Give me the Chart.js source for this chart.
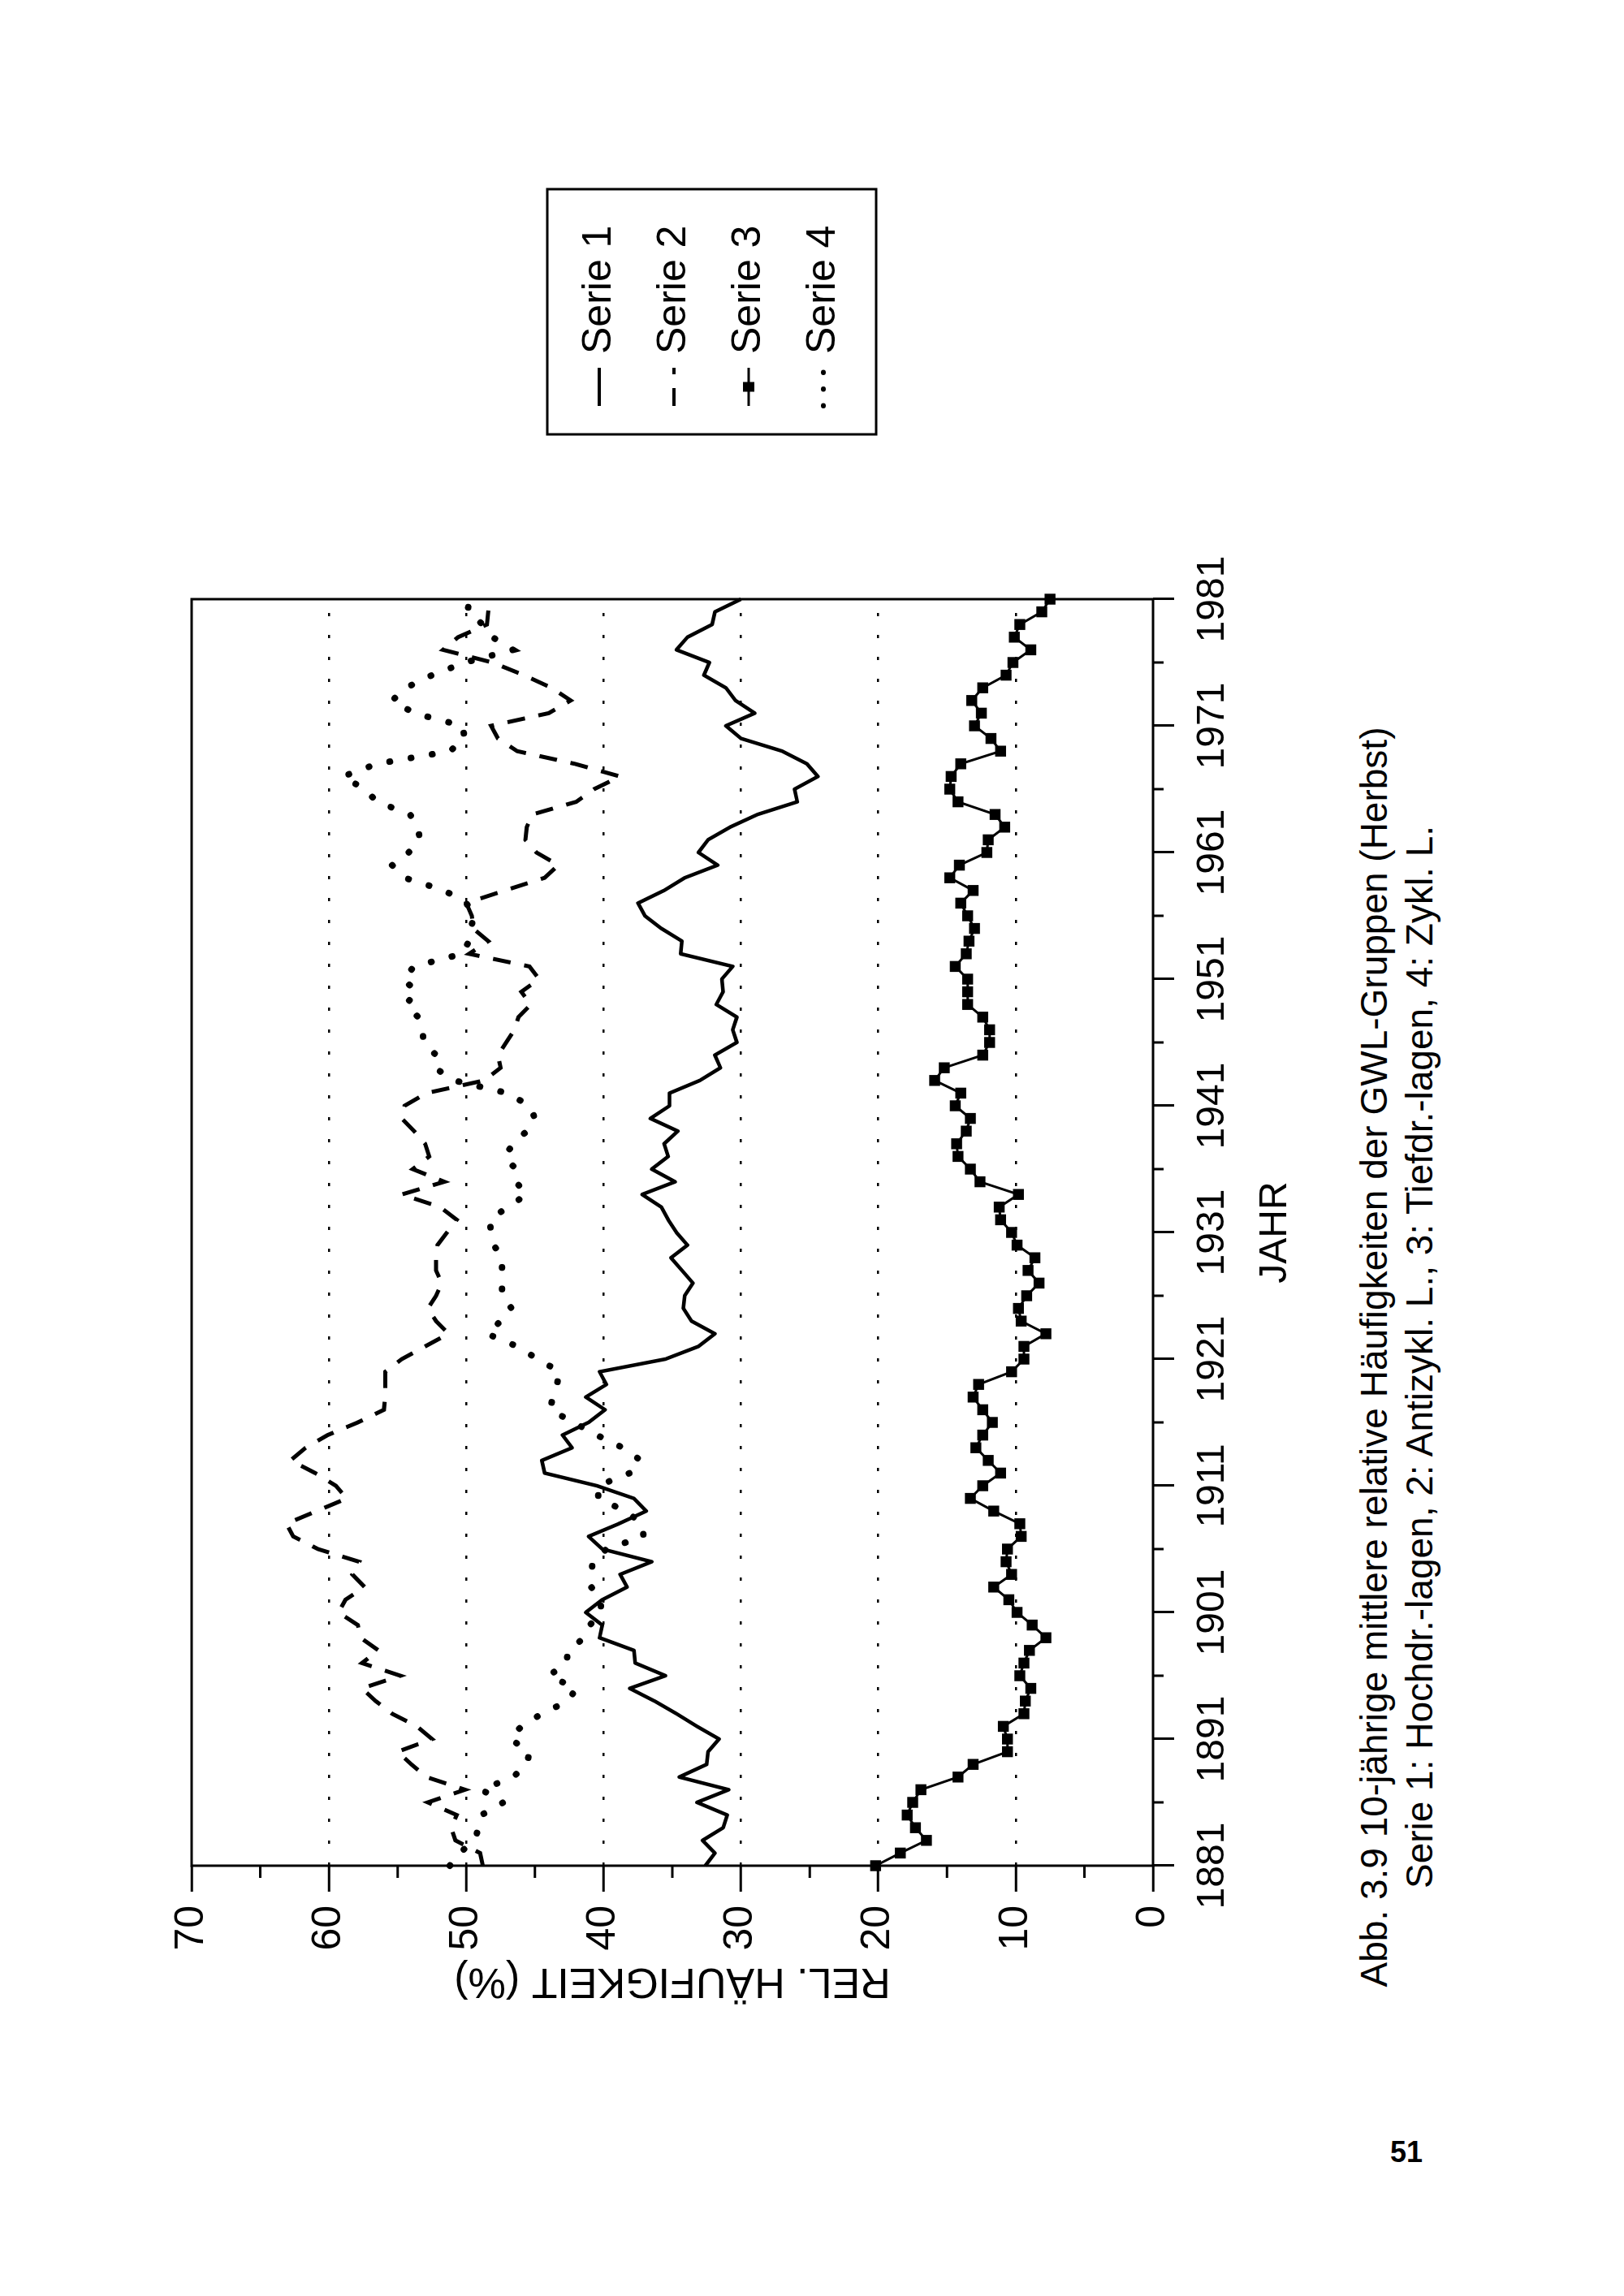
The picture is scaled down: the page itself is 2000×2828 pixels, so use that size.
<!DOCTYPE html>
<html>
<head>
<meta charset="utf-8">
<script src="https://cdn.jsdelivr.net/npm/chart.js@4.4.1/dist/chart.umd.min.js"></script>
<style>
html, body { margin: 0; padding: 0; background: #fff; width: 2000px; height: 2828px; overflow: hidden; }
#sheet {
  position: absolute; left: 0; top: 2828px; width: 2828px; height: 2000px;
  transform-origin: 0 0; transform: rotate(-90deg);
}
#chart { position: absolute; left: 300px; top: 150px; width: 2400px; height: 1500px; }
#caption {
  position: absolute; left: 368px; top: 1664px; width: 1577px;
  text-align: center; white-space: nowrap; color: #000;
  font: 46px/56px 'Liberation Sans', Arial, sans-serif;
}
#pageno {
  position: absolute; left: 1712px; top: 2630px; color: #000;
  font: bold 36px 'Liberation Sans Narrow', 'Liberation Sans', Arial, sans-serif;
}
</style>
</head>
<body>
<div id="sheet">
  <canvas id="chart" width="2400" height="1500"></canvas>
  <div id="caption">
    <div>Abb. 3.9 10-jährige mittlere relative Häufigkeiten der GWL-Gruppen (Herbst)</div>
    <div>Serie 1: Hochdr.-lagen, 2: Antizykl. L., 3: Tiefdr.-lagen, 4: Zykl. L.</div>
  </div>
</div>
<div id="pageno">51</div>

<script>
// DATEN (1881 - 1981)

const years = [
  1881, 1882, 1883, 1884, 1885, 1886, 1887, 1888, 1889, 1890,
  1891, 1892, 1893, 1894, 1895, 1896, 1897, 1898, 1899, 1900,
  1901, 1902, 1903, 1904, 1905, 1906, 1907, 1908, 1909, 1910,
  1911, 1912, 1913, 1914, 1915, 1916, 1917, 1918, 1919, 1920,
  1921, 1922, 1923, 1924, 1925, 1926, 1927, 1928, 1929, 1930,
  1931, 1932, 1933, 1934, 1935, 1936, 1937, 1938, 1939, 1940,
  1941, 1942, 1943, 1944, 1945, 1946, 1947, 1948, 1949, 1950,
  1951, 1952, 1953, 1954, 1955, 1956, 1957, 1958, 1959, 1960,
  1961, 1962, 1963, 1964, 1965, 1966, 1967, 1968, 1969, 1970,
  1971, 1972, 1973, 1974, 1975, 1976, 1977, 1978, 1979, 1980,
  1981
];

// Serie 1: Hochdr.-lagen
const serie1 = [
  32.6, 31.9, 32.8, 31.3, 31.0, 33.2, 30.9, 34.5, 32.5, 32.4,
  31.6, 33.2, 34.7, 36.3, 38.1, 35.5, 37.7, 37.8, 40.3, 40.1,
  41.3, 40.1, 38.3, 38.8, 36.5, 40.1, 41.1, 38.9, 36.9, 37.8,
  40.5, 44.3, 44.5, 42.3, 43.0, 41.1, 39.9, 41.3, 39.8, 40.3,
  35.5, 33.1, 31.9, 33.6, 34.2, 34.1, 33.5, 34.3, 35.1, 33.9,
  34.7, 35.3, 35.8, 37.2, 34.8, 36.5, 35.3, 35.6, 34.6, 36.6,
  35.2, 35.2, 33.0, 31.5, 31.9, 30.3, 30.6, 30.3, 31.8, 31.3,
  31.4, 30.6, 34.4, 34.3, 35.8, 37.0, 37.5, 35.6, 34.1, 31.7,
  33.1, 32.4, 30.8, 28.8, 25.9, 26.1, 24.4, 25.2, 27.0, 30.0,
  31.1, 29.0, 30.4, 31.1, 32.7, 32.3, 34.7, 33.9, 32.1, 31.9,
  30.0
];

// Serie 2: Antizykl. L.
const serie2 = [
  48.8, 49.0, 50.8, 51.1, 50.7, 52.8, 50.1, 52.9, 54.0, 55.0,
  52.5, 53.6, 55.4, 56.6, 57.6, 54.8, 57.6, 56.4, 57.7, 57.9,
  59.3, 58.8, 57.4, 58.3, 57.8, 60.8, 62.6, 63.1, 60.9, 58.7,
  59.5, 61.0, 62.8, 61.7, 60.1, 57.9, 56.0, 55.9, 55.9, 55.9,
  54.7, 53.0, 51.3, 52.2, 52.8, 52.2, 51.8, 52.2, 52.2, 52.1,
  51.4, 50.7, 51.9, 54.7, 51.6, 53.9, 52.7, 53.0, 53.8, 54.7,
  54.5, 52.9, 48.7, 47.5, 47.7, 47.1, 46.5, 46.2, 45.3, 46.0,
  44.7, 45.4, 49.8, 48.4, 49.5, 49.6, 50.0, 47.2, 44.3, 43.3,
  44.9, 45.7, 45.6, 45.2, 42.0, 40.7, 38.8, 42.1, 46.3, 47.7,
  48.2, 44.0, 42.4, 43.8, 45.8, 48.1, 51.7, 50.6, 48.5, 48.4,
  48.3
];

// Serie 3: Tiefdr.-lagen
const serie3 = [
  20.2, 18.4, 16.5, 17.3, 17.9, 17.5, 16.9, 14.2, 13.1, 10.6,
  10.6, 10.9, 9.4, 9.3, 8.9, 9.7, 9.4, 9.0, 7.8, 8.8,
  9.9, 10.5, 11.6, 10.3, 10.7, 10.6, 9.6, 9.7, 11.6, 13.3,
  12.4, 11.1, 12.0, 12.9, 12.4, 11.7, 12.4, 13.1, 12.7, 10.3,
  9.4, 9.4, 7.8, 9.6, 9.8, 9.2, 8.3, 9.1, 8.6, 9.9,
  10.3, 11.1, 11.2, 9.8, 12.6, 13.3, 14.2, 14.3, 13.6, 13.3,
  14.4, 14.0, 15.9, 15.2, 12.4, 11.9, 11.9, 12.4, 13.5, 13.5,
  13.5, 14.4, 13.6, 13.4, 13.0, 13.5, 14.0, 13.1, 14.8, 14.1,
  12.1, 12.0, 10.8, 11.5, 14.2, 14.8, 14.7, 14.0, 11.1, 11.8,
  13.0, 12.5, 13.2, 12.4, 10.7, 10.2, 8.9, 10.1, 9.7, 8.1,
  7.5
];

// Serie 4: Zykl. L.
const serie4 = [
  51.2, 50.5, 49.4, 49.1, 48.9, 47.3, 48.9, 46.6, 45.6, 45.4,
  46.8, 46.0, 44.5, 42.6, 42.0, 44.0, 42.7, 42.6, 41.4, 41.0,
  40.2, 40.2, 40.9, 40.9, 40.8, 39.8, 37.1, 37.2, 38.4, 40.4,
  40.4, 38.1, 37.3, 38.6, 40.5, 42.2, 43.9, 43.7, 43.4, 43.2,
  44.8, 46.3, 48.5, 47.5, 46.7, 47.4, 47.4, 47.4, 47.4, 48.0,
  48.2, 48.3, 47.0, 45.6, 46.4, 46.4, 47.2, 46.6, 45.6, 45.0,
  45.4, 47.0, 50.9, 52.3, 52.2, 53.1, 53.2, 53.5, 54.4, 53.6,
  54.6, 53.8, 50.3, 49.8, 49.7, 49.4, 50.0, 51.6, 54.5, 55.4,
  54.2, 53.4, 53.5, 54.1, 56.5, 57.4, 59.0, 56.5, 51.2, 50.1,
  50.3, 53.8, 55.4, 54.4, 52.5, 50.1, 46.6, 48.1, 48.8, 49.9,
  49.8
];

const yearTicks = [1881, 1891, 1901, 1911, 1921, 1931, 1941, 1951, 1961, 1971, 1981];
const yearMinorTicks = [1886, 1896, 1906, 1916, 1926, 1936, 1946, 1956, 1966, 1976];
const valueTicks = [0, 10, 20, 30, 40, 50, 60, 70];
const valueMinorTicks = [5, 15, 25, 35, 45, 55, 65];
const seriesNames = ['Serie 1', 'Serie 2', 'Serie 3', 'Serie 4'];


// RAHMEN UND KLEINE STRICHE

const rahmen = {
  id: 'rahmen',
  afterDraw(chart) {
    const { ctx, chartArea: a, scales } = chart;
    ctx.save();
    ctx.setLineDash([]);
    ctx.strokeStyle = '#000';
    ctx.lineWidth = 3;
    ctx.strokeRect(a.left, a.top, a.right - a.left, a.bottom - a.top);
    ctx.beginPath();
    valueMinorTicks.forEach(v => {
      const y = scales.y.getPixelForValue(v);
      ctx.moveTo(a.left - 15, y);
      ctx.lineTo(a.left, y);
    });
    yearMinorTicks.forEach(t => {
      const x = scales.x.getPixelForValue(t);
      ctx.moveTo(x, a.bottom);
      ctx.lineTo(x, a.bottom + 13);
    });
    ctx.stroke();
    ctx.restore();
  }
};


// LEGENDE MIT KASTEN

const legende = {
  id: 'legende',
  afterDraw(chart) {
    const { ctx, chartArea: a } = chart;
    const left = a.right + 203, top = 524, w = 302, h = 405;
    ctx.save();
    ctx.strokeStyle = '#000';
    ctx.fillStyle = '#000';
    ctx.lineWidth = 3;
    ctx.setLineDash([]);
    ctx.strokeRect(left, top, w, h);
    chart.data.datasets.forEach((ds, i) => {
      const y = top + 64 + i * 92;
      const x1 = left + 35, x2 = left + 82;
      const punktiert = ds.borderCapStyle === 'round';
      ctx.save();
      ctx.lineWidth = punktiert ? 6 : Math.min(ds.borderWidth, 4);
      ctx.lineCap = punktiert ? 'round' : 'butt';
      ctx.setLineDash(punktiert ? [0.5, 20] : (ds.borderDash || []));
      ctx.beginPath();
      ctx.moveTo(x1, y);
      ctx.lineTo(x2, y);
      ctx.stroke();
      ctx.restore();
      if (ds.pointRadius > 0) {
        ctx.fillRect((x1 + x2) / 2 - 6, y - 7, 12, 14);
      }
      ctx.font = "50px 'Liberation Sans', Arial, sans-serif";
      ctx.textBaseline = 'middle';
      ctx.fillText(ds.label, left + 99, y);
    });
    ctx.restore();
  }
};


// GRAFIK

Chart.defaults.font.family = "'Liberation Sans', Arial, sans-serif";
Chart.defaults.color = '#000';

const punkte = werte => years.map((j, i) => ({ x: j, y: werte[i] }));

new Chart(document.getElementById('chart'), {
  type: 'line',
  data: {
    datasets: [
      {
        label: seriesNames[0], data: punkte(serie1),
        borderColor: '#000', borderWidth: 4.5, borderJoinStyle: 'round',
        pointRadius: 0, tension: 0, clip: 10
      },
      {
        label: seriesNames[1], data: punkte(serie2),
        borderColor: '#000', borderWidth: 5, borderDash: [22, 17], pointRadius: 0, tension: 0, clip: 10
      },
      {
        label: seriesNames[2], data: punkte(serie3),
        borderColor: '#000', borderWidth: 3, tension: 0, clip: false,
        pointStyle: 'rect', pointRadius: 9.5, pointBackgroundColor: '#000', pointBorderWidth: 0
      },
      {
        label: seriesNames[3], data: punkte(serie4),
        borderColor: '#000', borderWidth: 8, borderDash: [0.5, 26], borderCapStyle: 'round',
        pointRadius: 0, tension: 0, clip: 10
      }
    ]
  },
  options: {
    responsive: false,
    animation: false,
    devicePixelRatio: 1,
    layout: { padding: { top: 86, right: 610, bottom: 0, left: 0 } },
    plugins: { legend: { display: false }, tooltip: { enabled: false } },
    scales: {
      x: {
        type: 'linear', min: 1881, max: 1981,
        afterBuildTicks: s => { s.ticks = yearTicks.map(v => ({ value: v })); },
        afterFit: s => { s.height = 230; },
        ticks: {
          font: { size: 48 }, padding: 19, maxRotation: 0, minRotation: 0,
          autoSkip: false, callback: v => String(v)
        },
        grid: { drawOnChartArea: false, color: '#000', tickLength: 26, tickColor: '#000', tickWidth: 3 },
        border: { display: false },
        title: { display: true, text: 'JAHR', font: { size: 48 }, padding: { top: 0, bottom: 50 } }
      },
      y: {
        type: 'linear', min: 0, max: 70,
        afterBuildTicks: s => { s.ticks = valueTicks.map(v => ({ value: v })); },
        afterFit: s => { s.width = 230; },
        ticks: { font: { size: 50 }, padding: 17 },
        grid: {
          color: c => (c.tick && (c.tick.value === 0 || c.tick.value === 70)) ? 'rgba(0,0,0,0)' : '#000',
          lineWidth: 2.5, borderDash: [4, 23],
          tickLength: 32, tickColor: '#000', tickWidth: 3, tickBorderDash: []
        },
        border: { display: false, dash: [4, 23] },
        title: {
          display: true, text: 'REL. HÄUFIGKEIT (%)', font: { size: 52 },
          padding: { top: 57, bottom: 0 }
        }
      }
    }
  },
  plugins: [rahmen, legende]
});
</script>
</body>
</html>
